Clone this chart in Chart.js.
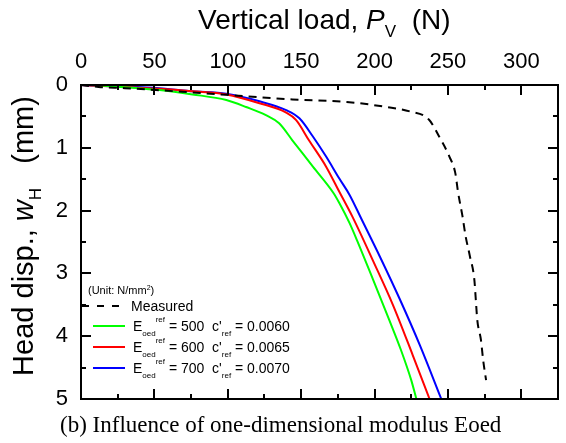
<!DOCTYPE html>
<html>
<head>
<meta charset="utf-8">
<script src="https://cdn.jsdelivr.net/npm/chart.js@4.4.1/dist/chart.umd.min.js"></script>
<style>
  html, body { margin: 0; padding: 0; background: #fff; }
</style>
</head>
<body>
<canvas id="chart" width="566" height="443"></canvas>
<script>
// vertical load P_V (N) and head displacement w_H (mm)
const measuredLoad = [0, 12, 30, 51, 83, 113, 144, 181, 208, 224, 237, 244, 251, 255, 257, 260, 262, 265, 268, 269, 270, 272.5, 274, 276];
const measuredDisp = [0, 0.03, 0.05, 0.08, 0.13, 0.18, 0.23, 0.27, 0.35, 0.42, 0.55, 0.82, 1.14, 1.4, 1.72, 2.1, 2.4, 2.73, 3.1, 3.42, 3.74, 4.06, 4.38, 4.7];

const e500Load = [0, 6, 20, 53.5, 76, 99, 112.5, 126, 135, 144, 158, 172, 176, 183, 188, 199, 210, 218, 225, 228.5];
const e500Disp = [0, 0, 0.02, 0.08, 0.15, 0.24, 0.35, 0.48, 0.61, 0.88, 1.3, 1.72, 1.88, 2.2, 2.47, 3.1, 3.74, 4.22, 4.7, 5.0];

const e600Load = [0, 20, 53.5, 76, 99, 121.6, 139.8, 146.6, 155.3, 167, 176, 185, 199, 212.5, 226, 237.5];
const e600Disp = [0, 0.02, 0.06, 0.1, 0.15, 0.29, 0.44, 0.56, 0.88, 1.3, 1.7, 2.1, 2.8, 3.5, 4.3, 5.0];

const e700Load = [0, 20, 53.5, 76, 99, 121.6, 139.8, 148.8, 158, 167, 176, 183, 191, 204, 217, 231, 245.5];
const e700Disp = [0, 0.02, 0.05, 0.1, 0.14, 0.26, 0.4, 0.53, 0.82, 1.14, 1.49, 1.75, 2.13, 2.75, 3.4, 4.15, 5.0];

const xTickValues = [0, 50, 100, 150, 200, 250, 300];
const yTickValues = [0, 1, 2, 3, 4, 5];

const legendRows = [
  { label: 'Measured' },
  { eoed: '500', cref: '0.0060' },
  { eoed: '600', cref: '0.0065' },
  { eoed: '700', cref: '0.0070' }
];

const SANS = '"Liberation Sans", Arial, sans-serif';
const SERIF = '"Liberation Serif", "Times New Roman", serif';

function pts(xs, ys) {
  return xs.map((x, i) => ({ x: x, y: ys[i] }));
}

function font(size, italic, family) {
  return (italic ? 'italic ' : '') + size + 'px ' + (family || SANS);
}

// text made of pieces, each may be shifted up or down (sub/superscript)
function richWidth(ctx, parts) {
  let w = 0;
  parts.forEach(p => { ctx.font = font(p.size, p.italic, p.family); w += ctx.measureText(p.t).width; });
  return w;
}
function drawRich(ctx, x, y, parts) {
  ctx.textAlign = 'left';
  ctx.textBaseline = 'alphabetic';
  parts.forEach(p => {
    ctx.font = font(p.size, p.italic, p.family);
    ctx.fillText(p.t, x, y + (p.dy || 0));
    x += ctx.measureText(p.t).width;
  });
}

const frameAndText = {
  id: 'frameAndText',
  afterDraw(chart) {
    const ctx = chart.ctx;
    const a = chart.chartArea;
    const xs = chart.scales.x, ys = chart.scales.y;
    ctx.save();
    ctx.strokeStyle = '#000';
    ctx.fillStyle = '#000';
    ctx.lineWidth = 2;

    // inward ticks on all four sides
    ctx.beginPath();
    for (let v = 0; v <= 325; v += 25) {
      const px = Math.round(xs.getPixelForValue(v));
      const len = v % 50 === 0 ? 10 : 5;
      ctx.moveTo(px, a.top); ctx.lineTo(px, a.top + len);
      ctx.moveTo(px, a.bottom); ctx.lineTo(px, a.bottom - len);
    }
    for (let v = 0; v <= 5; v += 0.5) {
      const py = Math.round(ys.getPixelForValue(v));
      const len = v % 1 === 0 ? 10 : 5;
      ctx.moveTo(a.left, py); ctx.lineTo(a.left + len, py);
      ctx.moveTo(a.right, py); ctx.lineTo(a.right - len, py);
    }
    ctx.stroke();
    ctx.strokeRect(a.left, a.top, a.right - a.left, a.bottom - a.top);

    // x axis title
    drawRich(ctx, 198, 29, [
      { t: 'Vertical load, ', size: 28 },
      { t: 'P', size: 28, italic: true },
      { t: 'V', size: 17, dy: 8 },
      { t: '  (N)', size: 28 }
    ]);

    // y axis title, rotated
    const yt = [
      { t: 'Head disp., ', size: 29 },
      { t: 'w', size: 29, italic: true },
      { t: 'H', size: 17, dy: 8 },
      { t: '   (mm)', size: 29 }
    ];
    const yw = richWidth(ctx, yt);
    ctx.save();
    ctx.translate(33, 236);
    ctx.rotate(-Math.PI / 2);
    drawRich(ctx, -yw / 2, 0, yt);
    ctx.restore();

    // caption
    ctx.font = font(23, false, SERIF);
    ctx.textAlign = 'left';
    ctx.fillText('(b) Influence of one-dimensional modulus Eoed', 60, 432);

    // legend
    drawRich(ctx, 88, 294, [{ t: '(Unit: N/mm', size: 11 }, { t: '2', size: 7, dy: -4 }, { t: ')', size: 11 }]);
    const colors = ['#000000', '#00ff00', '#ff0000', '#0000ff'];
    const rowY = [306, 326, 347, 368];
    legendRows.forEach((r, i) => {
      const y = rowY[i];
      ctx.strokeStyle = colors[i];
      ctx.lineWidth = 2;
      ctx.beginPath();
      if (r.label) {
        ctx.setLineDash([7, 8]);
        ctx.moveTo(82, y); ctx.lineTo(125, y);
      } else {
        ctx.setLineDash([]);
        ctx.moveTo(93, y); ctx.lineTo(125, y);
      }
      ctx.stroke();
      ctx.setLineDash([]);
      if (r.label) {
        drawRich(ctx, 131, y + 5, [{ t: r.label, size: 14 }]);
      } else {
        drawRich(ctx, 133, y + 5, [
          { t: 'E', size: 14 },
          { t: 'oed', size: 8, dy: 5 },
          { t: 'ref', size: 8, dy: -9 },
          { t: ' = ' + r.eoed + '  c\'', size: 14 },
          { t: 'ref', size: 8, dy: 5 },
          { t: ' = ' + r.cref, size: 14 }
        ]);
      }
    });
    ctx.restore();
  }
};

const lineStyle = { showLine: true, pointRadius: 0, borderWidth: 2, cubicInterpolationMode: 'monotone', fill: false };

new Chart(document.getElementById('chart'), {
  type: 'scatter',
  data: {
    datasets: [
      Object.assign({ label: 'Measured', data: pts(measuredLoad, measuredDisp), borderColor: '#000', borderDash: [8, 6] }, lineStyle),
      Object.assign({ label: 'Eoed 500', data: pts(e500Load, e500Disp), borderColor: '#00ff00' }, lineStyle),
      Object.assign({ label: 'Eoed 600', data: pts(e600Load, e600Disp), borderColor: '#ff0000' }, lineStyle),
      Object.assign({ label: 'Eoed 700', data: pts(e700Load, e700Disp), borderColor: '#0000ff' }, lineStyle)
    ]
  },
  options: {
    responsive: false,
    animation: false,
    devicePixelRatio: 1,
    layout: { padding: { left: 0, top: 0, right: 8, bottom: 44 } },
    plugins: { legend: { display: false }, tooltip: { enabled: false } },
    scales: {
      x: {
        type: 'linear',
        position: 'top',
        min: 0, max: 325,
        afterBuildTicks: s => { s.ticks = xTickValues.map(v => ({ value: v })); },
        afterFit: s => { s.height = 85; },
        grid: { display: false, drawTicks: false },
        border: { display: false },
        ticks: { color: '#000', padding: 10, maxRotation: 0, font: { family: SANS, size: 22 } }
      },
      y: {
        type: 'linear',
        reverse: true,
        min: 0, max: 5,
        afterBuildTicks: s => { s.ticks = yTickValues.map(v => ({ value: v })); },
        afterFit: s => { s.width = 81; },
        grid: { display: false, drawTicks: false },
        border: { display: false },
        ticks: { color: '#000', padding: 13, font: { family: SANS, size: 22 } }
      }
    }
  },
  plugins: [frameAndText]
});
</script>
</body>
</html>
